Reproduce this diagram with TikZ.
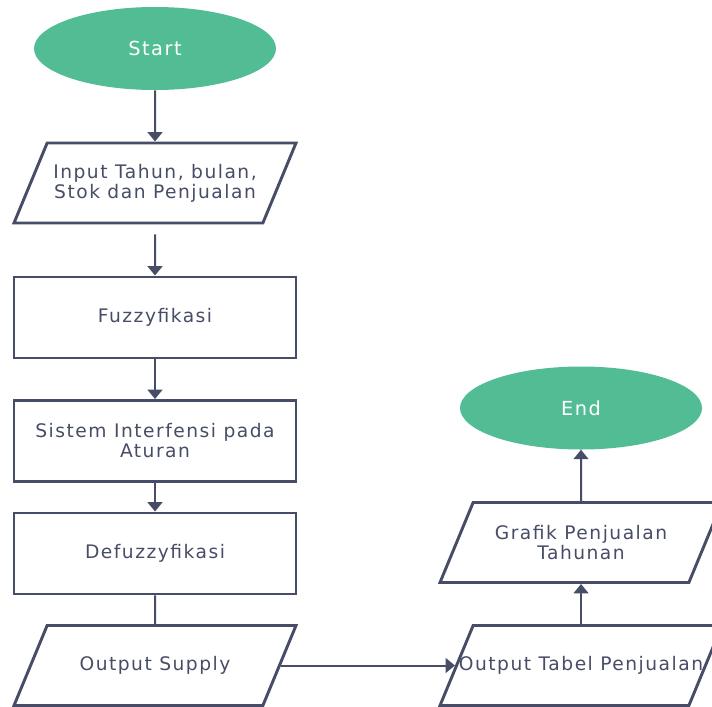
\documentclass[tikz,border=0pt]{standalone}
\usepackage{fontspec}
\setmainfont{DejaVu Sans}[LetterSpace=8]
\usetikzlibrary{shapes.geometric, arrows.meta}
\definecolor{flowgreen}{HTML}{52BD94}
\definecolor{flowline}{HTML}{474D66}
% isi jajar genjang: ukuran tetap supaya semua bentuknya sama
\newcommand{\datatext}[1]{\parbox[c][60pt][c]{161.8pt}{\centering #1}}
\tikzset{
	terminal/.style = {ellipse, fill = flowgreen, draw = none, minimum width = 181.5pt, minimum height = 62.25pt, inner sep = 0pt, text = white, font = \fontsize{14.5}{15}\selectfont},
	process/.style = {rectangle, draw = flowline, line width = 2.2pt, minimum width = 211.5pt, minimum height = 60.75pt, inner sep = 0pt, align = center, text = flowline},
	data/.style = {trapezium, trapezium left angle = 67.5, trapezium right angle = 112.5, draw = flowline, line width = 2.2pt, inner sep = 0pt, text = flowline},
	flow/.style = {draw = flowline, line width = 1.5pt, -{Triangle[width = 11pt, length = 7pt]}},
	link/.style = {draw = flowline, line width = 1.5pt},
}
\begin{document}
\begin{tikzpicture}[x = 0.75pt, y = -0.75pt, font = \fontsize{14}{15}\selectfont]
	\clip (0, 0) rectangle (712, 706);
	
	% kolom kiri
	\node [terminal] (start) at (155, 48.5) {Start};
	\node [data] (input) at (155, 183) {\datatext{\makebox[0pt]{Input Tahun, bulan,}\\\makebox[0pt]{Stok dan Penjualan}}};
	\node [process] (fuzzy) at (155, 317.5) {Fuzzyfikasi};
	\node [process] (sistem) at (155, 441) {Sistem Interfensi pada\\Aturan};
	\node [process] (defuzzy) at (155, 553.5) {Defuzzyfikasi};
	\node [data] (supply) at (155, 665.5) {\datatext{Output Supply}};
	
	% kolom kanan
	\node [data] (tabel) at (581, 665.5) {\datatext{\makebox[0pt]{Output Tabel Penjualan}}};
	\node [data] (grafik) at (581, 542.5) {\datatext{Grafik Penjualan\\Tahunan}};
	\node [terminal] (end) at (581, 408) {End};
	
	% panah
	\draw [flow] (start.south) -- (input.north);
	\draw [flow, shorten <= 7.5pt] (input.south) -- (fuzzy.north);
	\draw [flow] (fuzzy.south) -- (sistem.north);
	\draw [flow] (sistem.south) -- (defuzzy.north);
	\draw [link] (defuzzy.south) -- (supply.north);
	\draw [flow] (supply.east) -- (tabel.west);
	\draw [flow] (tabel.north) -- (grafik.south);
	\draw [flow] (grafik.north) -- (end.south);
\end{tikzpicture}
\end{document}
